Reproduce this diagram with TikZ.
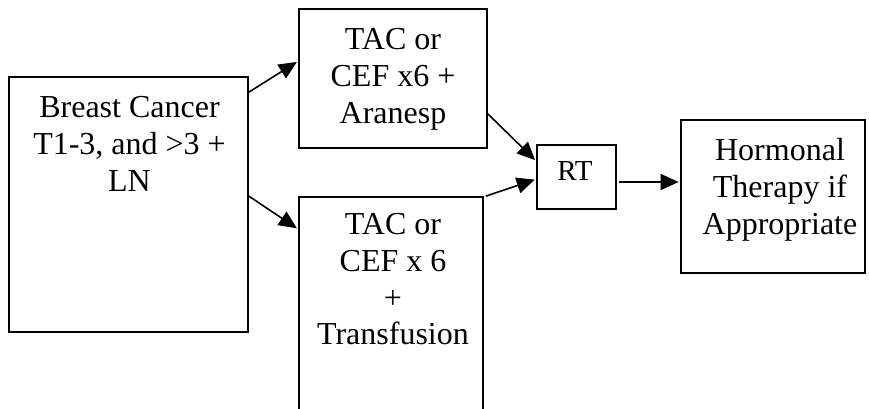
\documentclass[tikz,border=0pt]{standalone}
\usepackage{fontspec}
\setmainfont{Liberation Serif}
\usetikzlibrary{arrows.meta}
\begin{document}
\begin{tikzpicture}[x=1pt,y=-1pt,
  box/.style={draw,line width=1.7pt,inner sep=0pt},
  boxtext/.style={inner sep=0pt,anchor=north,align=center,font=\fontsize{32}{36.6}\selectfont},
  arr/.style={-{Triangle[length=18pt,width=16pt]},line width=1.6pt,shorten >=1.5pt}]
\useasboundingbox (0,0) rectangle (869,408);
\clip (0,0) rectangle (869,408);

% boxes
\node[box,minimum width=239pt,minimum height=255pt] (cancer) at (128.5,204.5) {};
\node[box,minimum width=188pt,minimum height=139pt] (aranesp) at (393,78.5) {};
\node[box,minimum width=184pt,minimum height=233pt] (transf) at (391,313.5) {};
\node[box,minimum width=79pt,minimum height=64pt] (rt) at (576.5,177) {};
\node[box,minimum width=184pt,minimum height=153pt] (horm) at (773,196.5) {};

% box texts
\node[boxtext] (cancertext) at (129.5,96.5) {Breast Cancer\\T1-3, and >3 +\\LN};
\node[boxtext] (aranesptext) at (393,28.5) {TAC or\\CEF x6 +\\Aranesp};
\node[boxtext] (transftext) at (393,213.5) {TAC or\\CEF x 6\\+\\Transfusion};
\node[boxtext,font=\fontsize{29}{34}\selectfont] (rttext) at (575,161.8) {RT};
\node[boxtext] (hormtext) at (780,138.5) {Hormonal\\Therapy if\\Appropriate};

% connectors
\draw[arr] ([yshift=-16pt]cancer.north east) -- ([yshift=-53pt]aranesp.north west);
\draw[arr] ([yshift=-120pt]cancer.north east) -- ([yshift=-33pt]transf.north west);
\draw[arr] ([yshift=35pt]aranesp.south east) -- ([yshift=-17pt]rt.north west);
\draw[arr] ([xshift=2pt]transf.north east) -- ([yshift=-35pt]rt.north west);
\draw[arr] ([xshift=2pt,yshift=-5pt]rt.east) coordinate (rtout) -- (rtout -| horm.west);
\end{tikzpicture}
\end{document}
